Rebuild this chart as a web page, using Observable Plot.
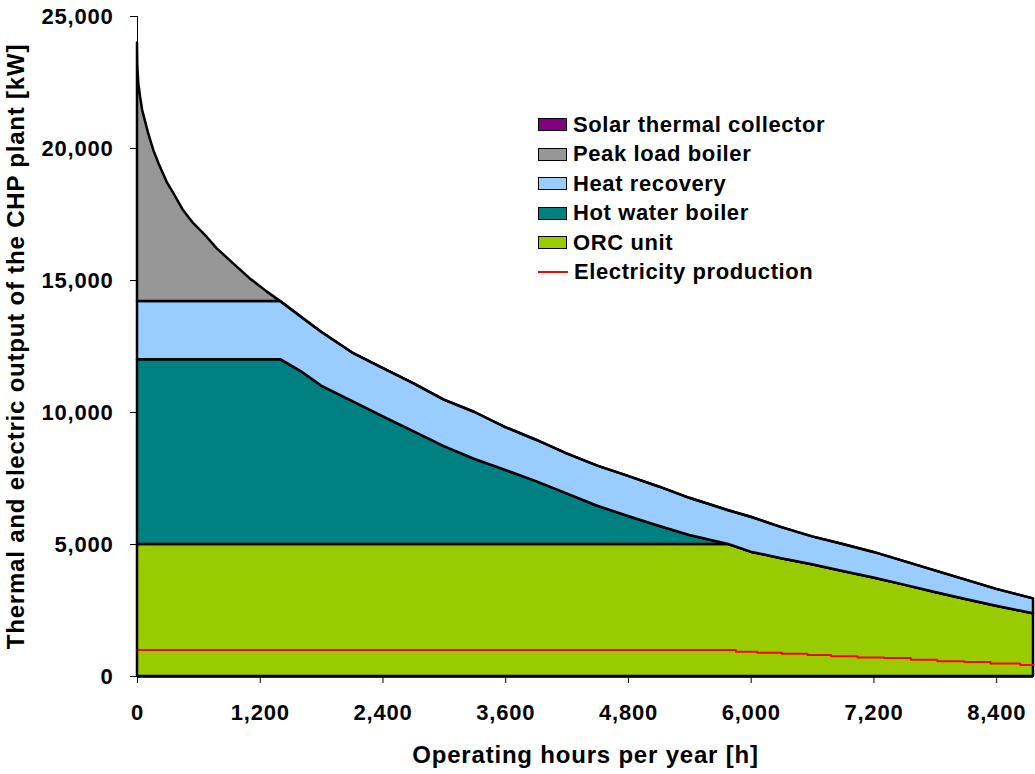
<!DOCTYPE html>
<html><head><meta charset="utf-8">
<script src="https://cdn.jsdelivr.net/npm/d3@7"></script>
<script src="https://cdn.jsdelivr.net/npm/@observablehq/plot@0.6"></script>
<style>
html,body{margin:0;padding:0;background:#fff;}
#wrap{position:relative;width:1035px;height:774px;font-family:'Liberation Sans',Arial,sans-serif;font-weight:bold;}
#wrap svg text{letter-spacing:0.8px;}
.legend{position:absolute;left:538px;top:110px;font-size:22px;letter-spacing:0.6px;color:#000;}
.row{display:flex;align-items:center;height:29.5px;white-space:nowrap;}
.sw{width:27px;height:11px;border:1.5px solid #000;margin-right:6px;flex:none;}
.ln{width:30px;height:2px;background:#ff0000;margin-right:6px;flex:none;}
</style></head><body><div id="wrap"></div>
<script>
// Operating hours (x)
const hours = [0, 3, 13, 30, 50, 80, 110, 160, 210, 290, 360, 450, 550, 680, 780, 940, 1100, 1270, 1400, 1600, 1800, 2100, 2400, 2700, 3000, 3300, 3600, 3900, 4200, 4500, 4800, 5100, 5400, 5780, 6000, 6300, 6600, 6900, 7200, 7500, 7800, 8100, 8400, 8760];
// Component outputs [kW], stacked bottom to top
const orcUnit = [5000,5000,5000,5000,5000,5000,5000,5000,5000,5000,5000,5000,5000,5000,5000,5000,5000,5000,5000,5000,5000,5000,5000,5000,5000,5000,5000,5000,5000,5000,5000,5000,5000,5000,4710,4460,4230,3980,3730,3460,3180,2920,2660,2380];
const hotWaterBoiler = [7000,7000,7000,7000,7000,7000,7000,7000,7000,7000,7000,7000,7000,7000,7000,7000,7000,7000,7000,6550,6000,5420,4840,4280,3710,3220,2810,2380,1920,1450,1060,690,340,0,0,0,0,0,0,0,0,0,0,0];
const heatRecovery = [2200,2200,2200,2200,2200,2200,2200,2200,2200,2200,2200,2200,2200,2200,2200,2200,2200,2200,2200,2070,2040,1840,1830,1810,1760,1780,1620,1570,1510,1520,1520,1490,1410,1280,1320,1180,1060,1020,970,890,820,730,640,560];
const peakLoadBoiler = [9800,8900,8250,7750,7250,6800,6350,5720,5220,4520,4060,3450,2950,2440,2000,1430,870,360,0,0,0,0,0,0,0,0,0,0,0,0,0,0,0,0,0,0,0,0,0,0,0,0,0,0];
// Electricity production (stepped)
const elecHours = [0, 5850, 6060, 6300, 6550, 6780, 7040, 7300, 7560, 7820, 8080, 8340, 8630, 8760];
const elecValues = [1000, 940, 900, 860, 810, 770, 720, 700, 630, 580, 550, 490, 440, 440];

const seriesNames = ["ORC unit", "Hot water boiler", "Heat recovery", "Peak load boiler"];
const seriesColors = ["#99cc00", "#008080", "#99ccff", "#969696"];
const legendNames = ["Solar thermal collector", "Peak load boiler", "Heat recovery", "Hot water boiler", "ORC unit"];
const legendColors = ["#800080", "#969696", "#99ccff", "#008080", "#99cc00"];
const xTicks = [0, 1200, 2400, 3600, 4800, 6000, 7200, 8400];
const yTicks = [0, 5000, 10000, 15000, 20000, 25000];
const xLabel = "Operating hours per year [h]";
const yLabel = "Thermal and electric output of the CHP plant [kW]";

const comps = [orcUnit, hotWaterBoiler, heatRecovery, peakLoadBoiler];
const tidy = seriesNames.flatMap((s, i) => hours.map((h, j) => ({h, v: comps[i][j], s})));
const elec = elecHours.map((h, i) => ({h, v: elecValues[i]}));
const fmt = d3.format(",");

const chart = Plot.plot({
  width: 1035, height: 774,
  marginLeft: 137, marginRight: 2, marginTop: 16, marginBottom: 98,
  style: {fontFamily: "'Liberation Sans', Arial, sans-serif", fontWeight: "bold", fontSize: "22px", color: "#000", background: "#fff"},
  x: {domain: [0, 8760]},
  y: {domain: [0, 25000]},
  color: {domain: seriesNames, range: seriesColors},
  marks: [
    Plot.areaY(tidy, Plot.stackY({x: "h", y: "v", z: "s", fill: "s", stroke: "#000", strokeWidth: 2.5, strokeLinejoin: "round"})),
    Plot.line(elec, {x: "h", y: "v", stroke: "#ff0000", strokeWidth: 2, curve: "step-after"}),
    Plot.ruleX([0], {stroke: "#000", strokeWidth: 1}),
    Plot.ruleY([0], {stroke: "#000", strokeWidth: 2.5}),
    Plot.axisX({ticks: xTicks, tickSize: 7, tickFormat: () => "", label: null}),
    Plot.axisY({ticks: yTicks, tickSize: 7, tickFormat: () => "", label: null}),
    Plot.text(xTicks, {x: d => d, text: d => fmt(d), frameAnchor: "bottom", dy: 36, lineAnchor: "middle", fontSize: 22}),
    Plot.text(yTicks, {y: d => d, text: d => fmt(d), frameAnchor: "left", dx: -24, textAnchor: "end", lineAnchor: "middle", fontSize: 22}),
    Plot.text([xLabel], {frameAnchor: "bottom", dy: 79, textAnchor: "middle", lineAnchor: "middle", fontSize: 24}),
    Plot.text([yLabel], {frameAnchor: "left", dx: -121, rotate: -90, textAnchor: "middle", lineAnchor: "middle", fontSize: 24})
  ]
});
const wrap = document.getElementById("wrap");
wrap.appendChild(chart);

const legend = document.createElement("div");
legend.className = "legend";
legendNames.forEach((n, i) => {
  const r = document.createElement("div"); r.className = "row";
  const sw = document.createElement("div"); sw.className = "sw"; sw.style.background = legendColors[i];
  const t = document.createElement("span"); t.textContent = n;
  r.appendChild(sw); r.appendChild(t); legend.appendChild(r);
});
const r = document.createElement("div"); r.className = "row";
const ln = document.createElement("div"); ln.className = "ln";
const t = document.createElement("span"); t.textContent = "Electricity production";
r.appendChild(ln); r.appendChild(t); legend.appendChild(r);
wrap.appendChild(legend);
</script>
</body></html>
